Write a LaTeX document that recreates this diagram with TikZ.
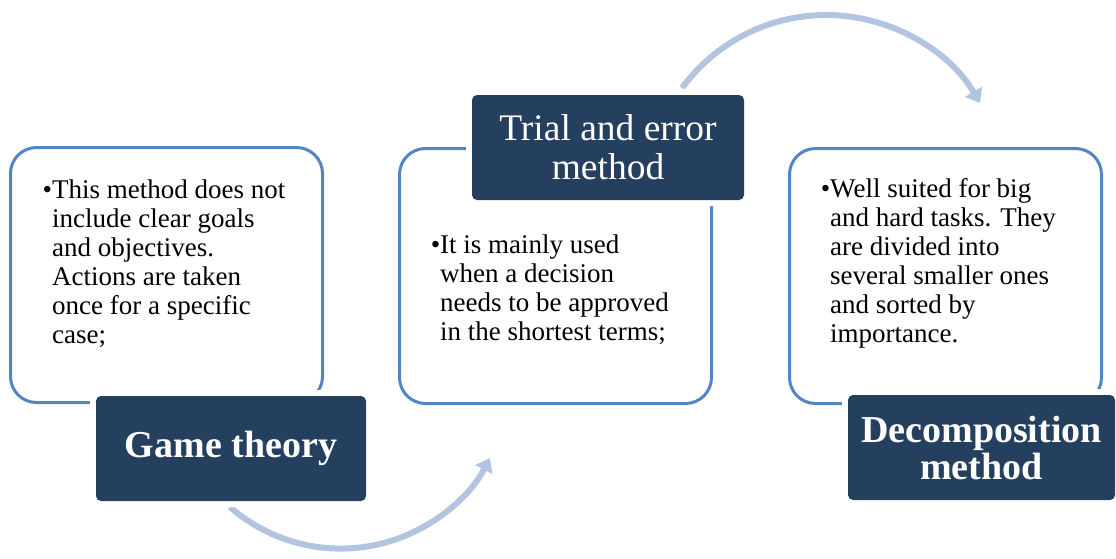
\documentclass[tikz,border=0pt]{standalone}
\usepackage{fontspec}
\setmainfont{Liberation Serif}
\usetikzlibrary{arrows.meta}
\definecolor{boxblue}{HTML}{5285C4}
\definecolor{navy}{HTML}{253F5F}
\definecolor{arrowblue}{HTML}{B2C4DF}
\begin{document}
\begin{tikzpicture}[x=1pt,y=-1pt,
  whitebox/.style={draw=boxblue, line width=3pt, rounded corners=26pt, fill=white,
    minimum width=312pt, minimum height=255pt, inner sep=0pt},
  titlebox/.style={fill=navy, text=white, rounded corners=5pt, align=center, inner sep=0pt,
    preaction={draw=white, line width=12pt}},
  bodytext/.style={anchor=north west, align=left, inner sep=0pt,
    font=\fontsize{27}{29}\selectfont},
  flow/.style={draw=arrowblue, line width=6pt, -{Triangle[length=13pt,width=19pt]}}
]
\useasboundingbox[fill=white] (0,0) rectangle (1116,558);

% curved arrows
\coordinate (c1) at (340.7,380.4);
\coordinate (c2) at (826.1,193.7);
\draw[flow] (c1) ++(131.2:168.2) arc[start angle=131.2, end angle=27.5, radius=168.2];
\draw[flow] (c2) ++(-143.7:178.7) arc[start angle=-143.7, end angle=-30.5, radius=178.7];

% white boxes
\node[whitebox] (b1) at (166.5,275) {};
\node[whitebox] (b2) at (555.5,276) {};
\node[whitebox] (b3) at (945.5,276) {};

% body texts
\node[bodytext] (t1) at (52,177) {\rule{0pt}{21pt}\llap{\textbullet}This method does not\\include clear goals\\and objectives.\\Actions are taken\\once for a specific\\case;};
\node[bodytext] (t2) at (440,232) {\rule{0pt}{21pt}\llap{\textbullet}It is mainly used\\when a decision\\needs to be approved\\in the shortest terms;};
\node[bodytext] (t3) at (830,176) {\rule{0pt}{21pt}\llap{\textbullet}Well suited for big\\and hard tasks. They\\are divided into\\several smaller ones\\and sorted by\\importance.};

% title boxes
\node[titlebox, minimum width=270pt, minimum height=105pt,
  font=\bfseries\fontsize{38}{38}\selectfont] (g1) at (231,448.5) {Game theory};
\node[titlebox, minimum width=272pt, minimum height=105pt,
  font=\fontsize{37.5}{39}\selectfont] (g2) at (608,147.5) {Trial and error\\method};
\node[titlebox, minimum width=267pt, minimum height=105pt,
  font=\bfseries\fontsize{38}{37}\selectfont] (g3) at (981.5,447.5) {Decomposition\\method};
\end{tikzpicture}
\end{document}
